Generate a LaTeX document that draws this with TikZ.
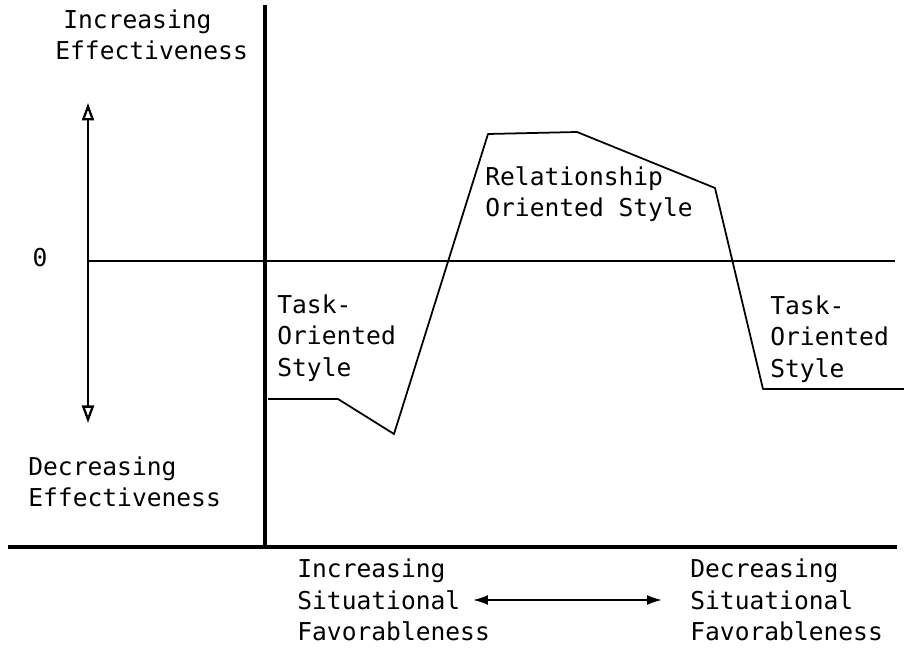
\documentclass[tikz,border=0pt]{standalone}
\usepackage{fontspec}
\setmonofont{DejaVu Sans Mono}
\usetikzlibrary{arrows.meta,calc}
\tikzset{
  axisline/.style={line width=2.4pt},
  thinline/.style={line width=1pt},
  lbl/.style={font=\ttfamily\fontsize{14}{18}\selectfont, align=left, anchor=west, inner sep=0pt},
}
\begin{document}
\begin{tikzpicture}[x=0.02cm, y=-0.02cm]
		%%%%% START %%%%%
		\useasboundingbox (0, 0) rectangle (904, 658);
		
		% axes
		\draw[axisline] (265, 5) -- (265, 547);
		\draw[axisline] (8, 547) -- (897, 547);
		\draw[thinline] (88, 261) -- (895, 261);
		
		% effectiveness arrow
		\draw[line width=1.3pt, {Triangle[open, length=3.5mm, width=2.4mm]}-{Triangle[open, length=3.5mm, width=2.4mm]}] (88, 103) -- (88, 423);
		
		% style curve
		\draw[thinline, line join=round] (268, 399) -- (338, 399) -- (394, 434) -- (488, 134) -- (577, 132) -- (715, 188) -- (763, 389) -- (904, 389);
		
		\node[lbl] (incEff) at (55, 35) {\kern0.16cm Increasing\\Effectiveness};
		\node[lbl] (decEff) at (28, 482) {Decreasing\\Effectiveness};
		\node[font=\ttfamily\fontsize{14}{18}\selectfont, inner sep=0pt] (zero) at (40, 258) {0};
		
		\node[lbl] (taskL) at (277, 338) {Task-\\Oriented\\Style};
		\node[lbl] (relStyle) at (485, 194) {Relationship\\Oriented Style};
		\node[lbl] (taskR) at (770, 339) {Task-\\Oriented\\Style};
		
		\node[lbl] (incFav) at (297, 600) {Increasing\\Situational\\Favorableness};
		\node[lbl] (decFav) at (690, 600) {Decreasing\\Situational\\Favorableness};
		
		% favorableness arrow
		\draw[thinline, {Latex[length=3mm, width=2mm]}-{Latex[length=3mm, width=2mm]}] ($(incFav.west)+(176, 0)$) -- ($(decFav.west)+(-28, 0)$);
		
		%%%%% END %%%%%
	\end{tikzpicture}
\end{document}
